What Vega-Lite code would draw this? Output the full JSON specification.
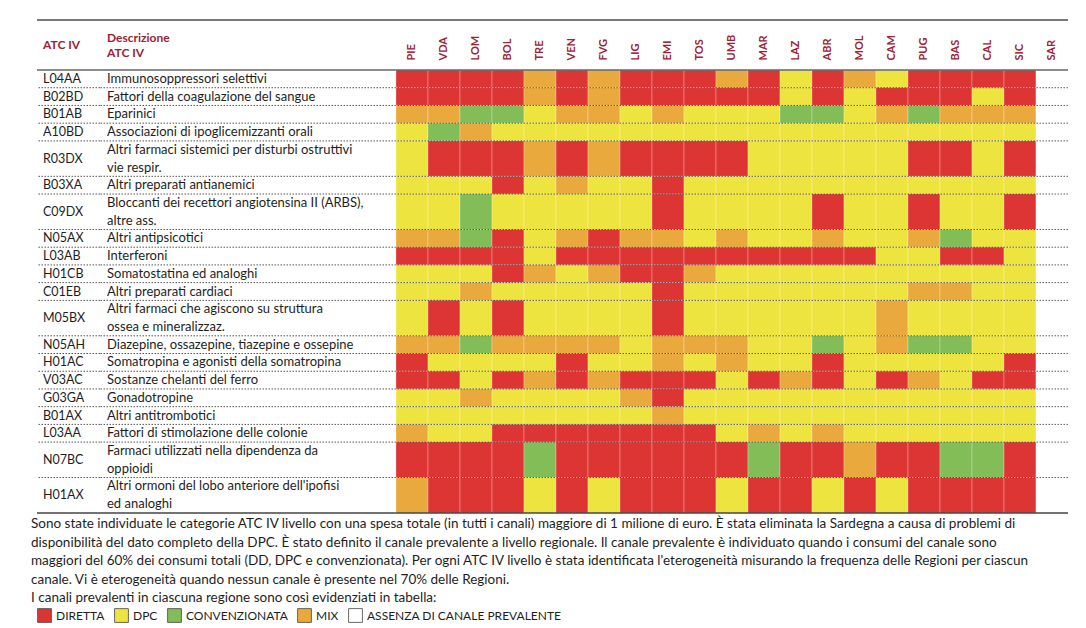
{
  "$schema": "https://vega.github.io/schema/vega-lite/v6.json",
  "background": "white",
  "padding": {"left": 31, "top": 19, "right": 5, "bottom": 5},
  "config": {"font": "Lato", "view": {"stroke": null}},
  "datasets": {
    "canali": [
      {"sigla": "D", "canale": "DIRETTA"},
      {"sigla": "P", "canale": "DPC"},
      {"sigla": "C", "canale": "CONVENZIONATA"},
      {"sigla": "M", "canale": "MIX"},
      {"sigla": "A", "canale": "ASSENZA DI CANALE PREVALENTE"}
    ],
    "atc": [
      {"codice": "L04AA", "descrizione": "Immunosoppressori selettivi", "righe": 1, "PIE": "D", "VDA": "D", "LOM": "D", "BOL": "D", "TRE": "M", "VEN": "D", "FVG": "M", "LIG": "D", "EMI": "D", "TOS": "D", "UMB": "M", "MAR": "D", "LAZ": "P", "ABR": "D", "MOL": "M", "CAM": "P", "PUG": "D", "BAS": "D", "CAL": "D", "SIC": "D", "SAR": "A"},
      {"codice": "B02BD", "descrizione": "Fattori della coagulazione del sangue", "righe": 1, "PIE": "D", "VDA": "D", "LOM": "D", "BOL": "D", "TRE": "M", "VEN": "D", "FVG": "M", "LIG": "D", "EMI": "D", "TOS": "D", "UMB": "D", "MAR": "D", "LAZ": "P", "ABR": "D", "MOL": "P", "CAM": "D", "PUG": "D", "BAS": "D", "CAL": "P", "SIC": "D", "SAR": "A"},
      {"codice": "B01AB", "descrizione": "Eparinici", "righe": 1, "PIE": "M", "VDA": "M", "LOM": "C", "BOL": "C", "TRE": "P", "VEN": "M", "FVG": "M", "LIG": "P", "EMI": "M", "TOS": "P", "UMB": "P", "MAR": "P", "LAZ": "C", "ABR": "C", "MOL": "P", "CAM": "M", "PUG": "C", "BAS": "M", "CAL": "M", "SIC": "M", "SAR": "A"},
      {"codice": "A10BD", "descrizione": "Associazioni di ipoglicemizzanti orali", "righe": 1, "PIE": "P", "VDA": "C", "LOM": "M", "BOL": "P", "TRE": "P", "VEN": "P", "FVG": "P", "LIG": "P", "EMI": "P", "TOS": "P", "UMB": "P", "MAR": "P", "LAZ": "P", "ABR": "P", "MOL": "P", "CAM": "P", "PUG": "P", "BAS": "P", "CAL": "P", "SIC": "P", "SAR": "A"},
      {"codice": "R03DX", "descrizione": ["Altri farmaci sistemici per disturbi ostruttivi", "vie respir."], "righe": 2, "PIE": "P", "VDA": "D", "LOM": "D", "BOL": "D", "TRE": "M", "VEN": "D", "FVG": "M", "LIG": "D", "EMI": "D", "TOS": "D", "UMB": "D", "MAR": "P", "LAZ": "P", "ABR": "P", "MOL": "P", "CAM": "P", "PUG": "D", "BAS": "D", "CAL": "P", "SIC": "D", "SAR": "A"},
      {"codice": "B03XA", "descrizione": "Altri preparati antianemici", "righe": 1, "PIE": "P", "VDA": "P", "LOM": "P", "BOL": "D", "TRE": "P", "VEN": "M", "FVG": "P", "LIG": "P", "EMI": "D", "TOS": "P", "UMB": "P", "MAR": "P", "LAZ": "P", "ABR": "P", "MOL": "P", "CAM": "P", "PUG": "P", "BAS": "P", "CAL": "P", "SIC": "P", "SAR": "A"},
      {"codice": "C09DX", "descrizione": ["Bloccanti dei recettori angiotensina II (ARBS),", "altre ass."], "righe": 2, "PIE": "P", "VDA": "P", "LOM": "C", "BOL": "P", "TRE": "P", "VEN": "P", "FVG": "P", "LIG": "P", "EMI": "D", "TOS": "P", "UMB": "P", "MAR": "P", "LAZ": "P", "ABR": "D", "MOL": "P", "CAM": "P", "PUG": "D", "BAS": "P", "CAL": "P", "SIC": "D", "SAR": "A"},
      {"codice": "N05AX", "descrizione": "Altri antipsicotici", "righe": 1, "PIE": "M", "VDA": "M", "LOM": "C", "BOL": "D", "TRE": "P", "VEN": "M", "FVG": "D", "LIG": "M", "EMI": "M", "TOS": "P", "UMB": "M", "MAR": "P", "LAZ": "P", "ABR": "M", "MOL": "P", "CAM": "P", "PUG": "M", "BAS": "C", "CAL": "P", "SIC": "P", "SAR": "A"},
      {"codice": "L03AB", "descrizione": "Interferoni", "righe": 1, "PIE": "D", "VDA": "D", "LOM": "D", "BOL": "D", "TRE": "P", "VEN": "D", "FVG": "D", "LIG": "D", "EMI": "D", "TOS": "D", "UMB": "D", "MAR": "D", "LAZ": "D", "ABR": "D", "MOL": "D", "CAM": "P", "PUG": "P", "BAS": "D", "CAL": "D", "SIC": "P", "SAR": "A"},
      {"codice": "H01CB", "descrizione": "Somatostatina ed analoghi", "righe": 1, "PIE": "P", "VDA": "P", "LOM": "P", "BOL": "D", "TRE": "M", "VEN": "P", "FVG": "M", "LIG": "D", "EMI": "D", "TOS": "M", "UMB": "P", "MAR": "P", "LAZ": "P", "ABR": "P", "MOL": "P", "CAM": "P", "PUG": "P", "BAS": "P", "CAL": "P", "SIC": "P", "SAR": "A"},
      {"codice": "C01EB", "descrizione": "Altri preparati cardiaci", "righe": 1, "PIE": "P", "VDA": "P", "LOM": "M", "BOL": "P", "TRE": "P", "VEN": "P", "FVG": "P", "LIG": "P", "EMI": "D", "TOS": "P", "UMB": "P", "MAR": "P", "LAZ": "P", "ABR": "P", "MOL": "P", "CAM": "P", "PUG": "M", "BAS": "M", "CAL": "P", "SIC": "P", "SAR": "A"},
      {"codice": "M05BX", "descrizione": ["Altri farmaci che agiscono su struttura", "ossea e mineralizzaz."], "righe": 2, "PIE": "P", "VDA": "D", "LOM": "P", "BOL": "D", "TRE": "P", "VEN": "P", "FVG": "P", "LIG": "P", "EMI": "D", "TOS": "P", "UMB": "P", "MAR": "P", "LAZ": "P", "ABR": "P", "MOL": "P", "CAM": "M", "PUG": "P", "BAS": "P", "CAL": "P", "SIC": "P", "SAR": "A"},
      {"codice": "N05AH", "descrizione": "Diazepine, ossazepine, tiazepine e ossepine", "righe": 1, "PIE": "M", "VDA": "M", "LOM": "C", "BOL": "M", "TRE": "M", "VEN": "M", "FVG": "M", "LIG": "P", "EMI": "M", "TOS": "M", "UMB": "M", "MAR": "P", "LAZ": "P", "ABR": "C", "MOL": "P", "CAM": "M", "PUG": "C", "BAS": "C", "CAL": "P", "SIC": "P", "SAR": "A"},
      {"codice": "H01AC", "descrizione": "Somatropina e agonisti della somatropina", "righe": 1, "PIE": "D", "VDA": "P", "LOM": "P", "BOL": "P", "TRE": "P", "VEN": "D", "FVG": "P", "LIG": "P", "EMI": "M", "TOS": "P", "UMB": "M", "MAR": "P", "LAZ": "P", "ABR": "D", "MOL": "P", "CAM": "P", "PUG": "P", "BAS": "P", "CAL": "P", "SIC": "D", "SAR": "A"},
      {"codice": "V03AC", "descrizione": "Sostanze chelanti del ferro", "righe": 1, "PIE": "D", "VDA": "D", "LOM": "P", "BOL": "D", "TRE": "M", "VEN": "D", "FVG": "M", "LIG": "D", "EMI": "D", "TOS": "D", "UMB": "P", "MAR": "D", "LAZ": "M", "ABR": "D", "MOL": "P", "CAM": "D", "PUG": "M", "BAS": "P", "CAL": "D", "SIC": "D", "SAR": "A"},
      {"codice": "G03GA", "descrizione": "Gonadotropine", "righe": 1, "PIE": "P", "VDA": "P", "LOM": "M", "BOL": "P", "TRE": "P", "VEN": "P", "FVG": "P", "LIG": "M", "EMI": "D", "TOS": "P", "UMB": "P", "MAR": "P", "LAZ": "P", "ABR": "P", "MOL": "P", "CAM": "P", "PUG": "P", "BAS": "P", "CAL": "P", "SIC": "P", "SAR": "A"},
      {"codice": "B01AX", "descrizione": "Altri antitrombotici", "righe": 1, "PIE": "P", "VDA": "P", "LOM": "P", "BOL": "P", "TRE": "P", "VEN": "P", "FVG": "P", "LIG": "P", "EMI": "M", "TOS": "P", "UMB": "P", "MAR": "P", "LAZ": "P", "ABR": "P", "MOL": "P", "CAM": "P", "PUG": "P", "BAS": "P", "CAL": "P", "SIC": "P", "SAR": "A"},
      {"codice": "L03AA", "descrizione": "Fattori di stimolazione delle colonie", "righe": 1, "PIE": "M", "VDA": "P", "LOM": "P", "BOL": "D", "TRE": "D", "VEN": "D", "FVG": "D", "LIG": "D", "EMI": "D", "TOS": "D", "UMB": "P", "MAR": "M", "LAZ": "P", "ABR": "M", "MOL": "P", "CAM": "P", "PUG": "P", "BAS": "P", "CAL": "P", "SIC": "P", "SAR": "A"},
      {"codice": "N07BC", "descrizione": ["Farmaci utilizzati nella dipendenza da", "oppioidi"], "righe": 2, "PIE": "D", "VDA": "D", "LOM": "D", "BOL": "D", "TRE": "C", "VEN": "D", "FVG": "D", "LIG": "D", "EMI": "D", "TOS": "D", "UMB": "D", "MAR": "C", "LAZ": "D", "ABR": "D", "MOL": "M", "CAM": "D", "PUG": "D", "BAS": "C", "CAL": "C", "SIC": "D", "SAR": "A"},
      {"codice": "H01AX", "descrizione": ["Altri ormoni del lobo anteriore dell'ipofisi", "ed analoghi"], "righe": 2, "PIE": "M", "VDA": "D", "LOM": "D", "BOL": "D", "TRE": "P", "VEN": "D", "FVG": "P", "LIG": "D", "EMI": "D", "TOS": "D", "UMB": "P", "MAR": "D", "LAZ": "D", "ABR": "P", "MOL": "D", "CAM": "P", "PUG": "D", "BAS": "D", "CAL": "D", "SIC": "D", "SAR": "A"}
    ]
  },
  "vconcat": [
    {
      "hconcat": [
        {
          "width": 63,
          "height": 443,
          "layer": [
            {
              "data": {"name": "atc"},
              "transform": [
                {"window": [{"op": "sum", "field": "righe", "as": "fine"}]},
                {"calculate": "datum.fine - datum.righe / 2", "as": "mezzo"}
              ],
              "mark": {"type": "text", "align": "left", "baseline": "middle", "dx": 6, "fontSize": 12.5, "color": "#1e1e1e"},
              "encoding": {
                "x": {"value": 0},
                "y": {"field": "mezzo", "type": "quantitative", "scale": {"domain": [0, 25], "reverse": true, "nice": false, "zero": false}, "axis": null},
                "text": {"field": "codice"}
              }
            },
            {
              "data": {"name": "atc"},
              "transform": [
                {"window": [{"op": "sum", "field": "righe", "as": "fine"}]},
                {"filter": "datum.fine < 25"}
              ],
              "mark": {"type": "rule", "color": "#555", "strokeWidth": 1, "strokeDash": [1.5, 1.5]},
              "encoding": {"y": {"field": "fine", "type": "quantitative"}}
            },
            {
              "data": {"values": [{"p": 0}]},
              "mark": {"type": "rule", "color": "#666", "strokeWidth": 1.5},
              "encoding": {"y": {"datum": 0}}
            },
            {
              "data": {"values": [{"p": 0}]},
              "mark": {"type": "rule", "color": "#444", "strokeWidth": 1.5},
              "encoding": {"y": {"datum": 25}}
            },
            {
              "data": {"values": [{"p": 0}]},
              "mark": {"type": "rule", "color": "#7a7a7a", "strokeWidth": 2},
              "encoding": {"y": {"datum": -2.82}}
            },
            {
              "data": {"values": [{"p": 0}]},
              "mark": {"type": "text", "align": "left", "baseline": "middle", "dx": 6, "fontSize": 12, "fontWeight": "bold", "color": "#9b2335", "text": "ATC IV"},
              "encoding": {"x": {"value": 0}, "y": {"datum": -1.41}}
            }
          ]
        },
        {
          "width": 296,
          "height": 443,
          "layer": [
            {
              "data": {"name": "atc"},
              "transform": [
                {"window": [{"op": "sum", "field": "righe", "as": "fine"}]},
                {"calculate": "datum.fine - datum.righe + 0.5", "as": "prima"}
              ],
              "mark": {"type": "text", "align": "left", "baseline": "middle", "dx": 7, "fontSize": 13, "lineHeight": 18, "color": "#1e1e1e"},
              "encoding": {
                "x": {"value": 0},
                "y": {"field": "prima", "type": "quantitative", "scale": {"domain": [0, 25], "reverse": true, "nice": false, "zero": false}, "axis": null},
                "text": {"field": "descrizione"}
              }
            },
            {
              "data": {"name": "atc"},
              "transform": [
                {"window": [{"op": "sum", "field": "righe", "as": "fine"}]},
                {"filter": "datum.fine < 25"}
              ],
              "mark": {"type": "rule", "color": "#555", "strokeWidth": 1, "strokeDash": [1.5, 1.5]},
              "encoding": {"y": {"field": "fine", "type": "quantitative"}}
            },
            {
              "data": {"values": [{"p": 0}]},
              "mark": {"type": "rule", "color": "#666", "strokeWidth": 1.5},
              "encoding": {"y": {"datum": 0}}
            },
            {
              "data": {"values": [{"p": 0}]},
              "mark": {"type": "rule", "color": "#444", "strokeWidth": 1.5},
              "encoding": {"y": {"datum": 25}}
            },
            {
              "data": {"values": [{"p": 0}]},
              "mark": {"type": "rule", "color": "#7a7a7a", "strokeWidth": 2},
              "encoding": {"y": {"datum": -2.82}}
            },
            {
              "data": {"values": [{"p": 0}]},
              "mark": {"type": "text", "align": "left", "baseline": "middle", "dx": 7, "fontSize": 12, "lineHeight": 15, "fontWeight": "bold", "color": "#9b2335", "text": ["Descrizione", "ATC IV"]},
              "encoding": {"x": {"value": 0}, "y": {"datum": -1.8}}
            }
          ]
        },
        {
          "width": 672,
          "height": 443,
          "layer": [
            {
              "data": {"name": "atc"},
              "transform": [
                {"window": [{"op": "sum", "field": "righe", "as": "fine"}]},
                {"calculate": "datum.fine - datum.righe", "as": "inizio"},
                {"fold": ["PIE", "VDA", "LOM", "BOL", "TRE", "VEN", "FVG", "LIG", "EMI", "TOS", "UMB", "MAR", "LAZ", "ABR", "MOL", "CAM", "PUG", "BAS", "CAL", "SIC", "SAR"], "as": ["regione", "sigla"]},
                {"lookup": "sigla", "from": {"data": {"name": "canali"}, "key": "sigla", "fields": ["canale"]}}
              ],
              "mark": {"type": "rect", "stroke": "#ffffff", "strokeWidth": 0.6, "strokeOpacity": 0.45},
              "encoding": {
                "x": {
                  "field": "regione", "type": "nominal",
                  "sort": ["PIE", "VDA", "LOM", "BOL", "TRE", "VEN", "FVG", "LIG", "EMI", "TOS", "UMB", "MAR", "LAZ", "ABR", "MOL", "CAM", "PUG", "BAS", "CAL", "SIC", "SAR"],
                  "scale": {"paddingInner": 0, "paddingOuter": 0},
                  "axis": {"orient": "top", "title": null, "labelAngle": -90, "labelAlign": "left", "labelBaseline": "middle", "ticks": false, "domain": false, "labelPadding": 10, "labelFontSize": 11, "labelFontWeight": "bold", "labelColor": "#9b2335"}
                },
                "y": {"field": "inizio", "type": "quantitative", "scale": {"domain": [0, 25], "reverse": true, "nice": false, "zero": false}, "axis": null},
                "y2": {"field": "fine"},
                "color": {
                  "field": "canale", "type": "nominal",
                  "scale": {
                    "domain": ["DIRETTA", "DPC", "CONVENZIONATA", "MIX", "ASSENZA DI CANALE PREVALENTE"],
                    "range": ["#dd3434", "#ede43f", "#82bd57", "#eaa93c", "#ffffff"]
                  },
                  "legend": {
                    "title": null, "orient": "bottom", "direction": "horizontal", "offset": 3,
                    "symbolType": "square", "symbolSize": 190, "symbolStrokeColor": "#444", "symbolStrokeWidth": 0.8, "symbolOpacity": 1,
                    "labelFontSize": 12, "labelColor": "#1e1e1e", "labelOffset": 4, "columnPadding": 8, "labelLimit": 400
                  }
                }
              }
            },
            {
              "data": {"name": "atc"},
              "transform": [
                {"window": [{"op": "sum", "field": "righe", "as": "fine"}]},
                {"filter": "datum.fine < 25"}
              ],
              "mark": {"type": "rule", "color": "#333", "strokeWidth": 1, "strokeDash": [1.5, 1.5], "opacity": 0.8},
              "encoding": {"y": {"field": "fine", "type": "quantitative"}}
            },
            {
              "data": {"values": [{"p": 0}]},
              "mark": {"type": "rule", "color": "#666", "strokeWidth": 1.5},
              "encoding": {"y": {"datum": 0}}
            },
            {
              "data": {"values": [{"p": 0}]},
              "mark": {"type": "rule", "color": "#444", "strokeWidth": 1.5},
              "encoding": {"y": {"datum": 25}}
            },
            {
              "data": {"values": [{"p": 0}]},
              "mark": {"type": "rule", "color": "#7a7a7a", "strokeWidth": 2},
              "encoding": {"y": {"datum": -2.82}}
            }
          ]
        }
      ],
      "spacing": 0,
      "bounds": "flush"
    },
    {
      "width": 1031,
      "height": 88,
      "data": {"values": [{"testo": [
        "Sono state individuate le categorie ATC IV livello con una spesa totale (in tutti i canali) maggiore di 1 milione di euro. È stata eliminata la Sardegna a causa di problemi di",
        "disponibilità del dato completo della DPC. È stato definito il canale prevalente a livello regionale. Il canale prevalente è individuato quando i consumi del canale sono",
        "maggiori del 60% dei consumi totali (DD, DPC e convenzionata). Per ogni ATC IV livello è stata identificata l'eterogeneità misurando la frequenza delle Regioni per ciascun",
        "canale. Vi è eterogeneità quando nessun canale è presente nel 70% delle Regioni.",
        "I canali prevalenti in ciascuna regione sono così evidenziati in tabella:"
      ]}]},
      "mark": {"type": "text", "align": "left", "baseline": "top", "dx": -6, "fontSize": 13.5, "lineHeight": 18.5, "color": "#1e1e1e"},
      "encoding": {"x": {"value": 0}, "y": {"value": 0}, "text": {"field": "testo"}}
    }
  ],
  "spacing": 3
}
